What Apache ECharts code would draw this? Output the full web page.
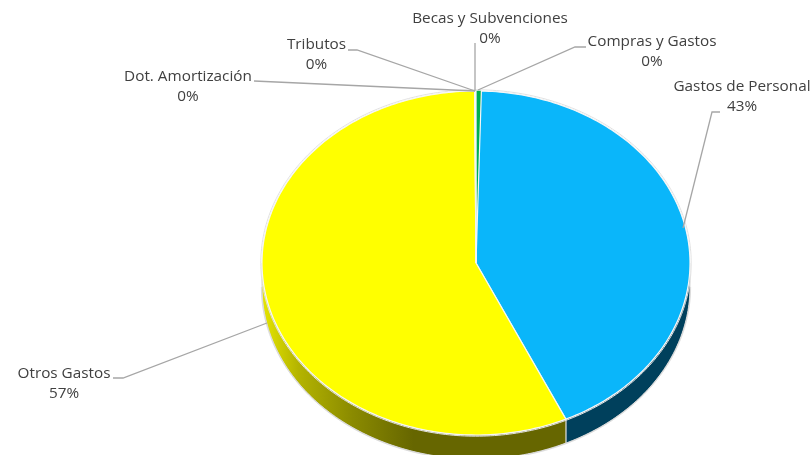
<!DOCTYPE html>
<html><head><meta charset="utf-8">
<style>html,body{margin:0;padding:0;background:#fff}#c{width:812px;height:455px}</style>
<script src="https://cdn.jsdelivr.net/npm/echarts@6/dist/echarts.min.js"></script>
</head><body><div id="c"></div>
<script>
// Data, clockwise from 12 o'clock
const categories = ['Compras y Gastos','Gastos de Personal','Otros Gastos','Dot. Amortización','Tributos','Becas y Subvenciones'];
const values = [0.4, 42.7, 56.8, 0.03, 0.03, 0.04];
const faceColors = ['#00B050','#0AB6FA','#FFFF00','#A5A5A5','#FFC000','#4472C4'];

// Layout
const CX = 476, CY = 263, RX = 214, RY = 172, DEPTH = 24;
const FONT = '"Open Sans"', FS = 15.3, LH = 19.5;
const labelPos = [[652,42],[742,87],[64,374],[188,77],[316.5,45],[490,19]];
const leaders = [
  [[586,47],[575,47],[478,90]],
  [[720,112],[712,112],[683,228]],
  [[113,378],[123,378],[267,323]],
  [[254,81],[475,91]],
  [[348,50],[357,50],[475,91]],
  [[475,43],[475,91]]
];
const total = values.reduce((a,b)=>a+b,0);
const pt = (deg,dy=0,grow=0)=>{const r=deg*Math.PI/180;return [CX+(RX+grow)*Math.sin(r),CY+dy-(RY+grow)*Math.cos(r)];};
const arc = (a,b,dy=0,grow=0)=>{const n=Math.max(2,Math.ceil(Math.abs(b-a)));const p=[];for(let i=0;i<=n;i++)p.push(pt(a+(b-a)*i/n,dy,grow));return p;};
const wallFill = i => i===2
  ? new echarts.graphic.LinearGradient(262,0,565,0,[
      {offset:0,color:'#E6E600'},{offset:0.12,color:'#B4B400'},{offset:0.3,color:'#8A8A00'},
      {offset:0.5,color:'#666600'},{offset:1,color:'#666600'}],true)
  : '#00405C';

function renderItem(params, api){
  const i = params.dataIndex;
  let start = 0; for(let k=0;k<i;k++) start += values[k];
  const a0 = start/total*360, a1 = (start+api.value(1))/total*360;
  const kids = [];
  const w0 = Math.max(a0,90), w1 = Math.min(a1,270);
  if (w1>w0){
    kids.push({type:'polygon',shape:{points:arc(w0,w1,0).concat(arc(w1,w0,DEPTH))},
      style:{fill:wallFill(i),stroke:'#D9D9D9',lineWidth:1}});
    kids.push({type:'polyline',shape:{points:arc(w0,w1,DEPTH,0.6)},style:{fill:null,stroke:'#DCDCDC',lineWidth:1}});
  }
  kids.push({type:'polyline',shape:{points:arc(a0,a1,0,1.2)},style:{fill:null,stroke:'#E2E2E2',lineWidth:1}});
  kids.push({type:'polygon',shape:{points:[[CX,CY]].concat(arc(a0,a1,0))},
    style:{fill:faceColors[i],stroke:i===0?faceColors[i]:'#F6F6F6',lineWidth:i===0?0.5:1.2}});
  return {type:'group',children:kids};
}
function renderLabels(params, api){
  const i = params.dataIndex;
  const kids = [{type:'polyline',shape:{points:leaders[i]},style:{fill:null,stroke:'#A6A6A6',lineWidth:1.3}}];
  const pct = Math.round(api.value(1)/total*100)+'%';
  const base = {textAlign:'center',textVerticalAlign:'middle',fill:'#404040',font:FS+'px '+FONT};
  kids.push({type:'text',style:Object.assign({},base,{x:labelPos[i][0],y:labelPos[i][1],text:categories[i]})});
  kids.push({type:'text',style:Object.assign({},base,{x:labelPos[i][0],y:labelPos[i][1]+LH,text:pct})});
  return {type:'group',children:kids};
}
const chart = echarts.init(document.getElementById('c'),null,{renderer:'canvas'});
const data = values.map((v,i)=>[i,v]);
chart.setOption({
  animation:false,backgroundColor:'#fff',
  series:[
    {type:'custom',coordinateSystem:'none',silent:true,z:2,renderItem,data},
    {type:'custom',coordinateSystem:'none',silent:true,z:3,renderItem:renderLabels,data}
  ]
});
</script></body></html>
